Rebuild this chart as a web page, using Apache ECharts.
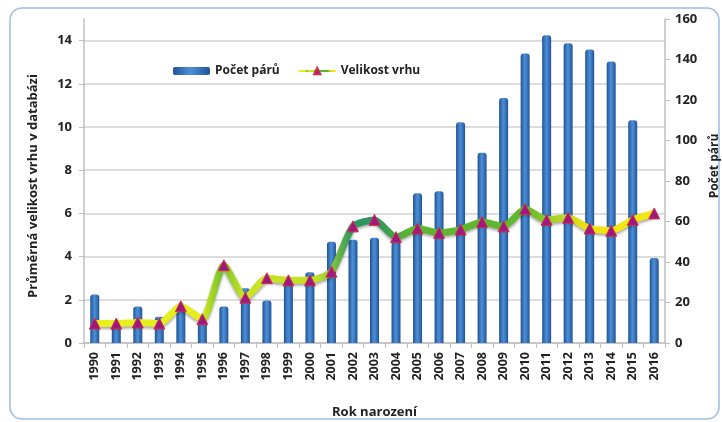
<!DOCTYPE html>
<html>
<head>
<meta charset="utf-8">
<script src="https://cdn.jsdelivr.net/npm/echarts@6/dist/echarts.min.js"></script>
<style>
  html, body { margin: 0; padding: 0; background: #fff; }
  #chart { width: 722px; height: 422px; }
</style>
</head>
<body>
<div id="chart"></div>
<script>
  // roky
  var years = ['1990', '1991', '1992', '1993', '1994', '1995', '1996', '1997', '1998', '1999',
    '2000', '2001', '2002', '2003', '2004', '2005', '2006', '2007', '2008', '2009',
    '2010', '2011', '2012', '2013', '2014', '2015', '2016']
  // Počet párů (pravá osa)
  var pairCounts = [24, 10, 18, 13, 16, 10, 18, 27, 21, 29,
    35, 50, 51, 52, 50, 74, 75, 109, 94, 121,
    143, 152, 148, 145, 139, 110, 42]
  // Velikost vrhu (levá osa)
  var litterSizes = [0.9, 0.9, 0.95, 0.9, 1.7, 1.1, 3.6, 2.1, 3.0, 2.9,
    2.9, 3.3, 5.4, 5.7, 4.9, 5.3, 5.1, 5.25, 5.6, 5.4,
    6.2, 5.7, 5.8, 5.3, 5.2, 5.7, 6.0]

  var font = '"Open Sans", "Noto Sans", sans-serif'
  var chart = echarts.init(document.getElementById('chart'))

  var lineGradient = new echarts.graphic.LinearGradient(0, 0, 1, 0, [
    {offset: 0, color: '#e9ef1e'},
    {offset: 0.19, color: '#e6ee1e'},
    {offset: 0.23, color: '#74c22c'},
    {offset: 0.27, color: '#cde424'},
    {offset: 0.40, color: '#bfe026'},
    {offset: 0.46, color: '#2f9a5e'},
    {offset: 0.50, color: '#2a9264'},
    {offset: 0.56, color: '#5db42e'},
    {offset: 0.77, color: '#62b82e'},
    {offset: 0.83, color: '#b7d824'},
    {offset: 0.88, color: '#f4e20e'},
    {offset: 1, color: '#f6e812'}
  ])

  var option = {
    animation: false,
    textStyle: { fontFamily: font },
    graphic: [{
      type: 'rect',
      z: -1,
      shape: { x: 10, y: 8, width: 709, height: 411, r: 12 },
      style: { fill: 'none', stroke: '#9dbce3', lineWidth: 1.5 }
    }],
    legend: {
      data: ['Počet párů', 'Velikost vrhu'],
      left: 168,
      top: 60,
      itemWidth: 37,
      itemHeight: 8,
      itemGap: 18,
      textStyle: { color: '#222', fontWeight: 'bold', fontSize: 12, fontFamily: font }
    },
    grid: { left: 84, right: 57, top: 19, bottom: 79, outerBoundsMode: 'none' },
    xAxis: {
      type: 'category',
      data: years,
      name: 'Rok narození',
      nameLocation: 'middle',
      nameGap: 63,
      nameTextStyle: { color: '#222', fontWeight: 'bold', fontSize: 13 },
      axisLine: { lineStyle: { color: '#bfbfbf', width: 1.5 } },
      axisTick: { show: true, length: 5, lineStyle: { color: '#bfbfbf' } },
      axisLabel: {
        rotate: 90,
        interval: 0,
        margin: 9,
        color: '#222',
        fontWeight: 'bold',
        fontSize: 12.5
      }
    },
    yAxis: [
      {
        type: 'value',
        min: 0,
        max: 15,
        interval: 2,
        name: 'Průměrná velikost vrhu v databázi',
        nameLocation: 'middle',
        nameGap: 44,
        nameTextStyle: { color: '#222', fontWeight: 'bold', fontSize: 13, padding: [0, 10, 0, 0] },
        axisLine: { show: true, lineStyle: { color: '#bfbfbf', width: 1.5 } },
        axisTick: { show: true, length: 5, lineStyle: { color: '#bfbfbf' } },
        axisLabel: { color: '#222', fontWeight: 'bold', fontSize: 13, margin: 12, showMaxLabel: false },
        splitLine: { show: true, showMaxLine: false, lineStyle: { color: '#d2d2d2', width: 1.5 } }
      },
      {
        type: 'value',
        min: 0,
        max: 160,
        interval: 20,
        position: 'right',
        name: 'Počet párů',
        nameLocation: 'middle',
        nameRotate: 90,
        nameGap: 37,
        nameTextStyle: { color: '#222', fontWeight: 'bold', fontSize: 12, padding: [0, 0, 0, 30] },
        axisLine: { show: true, lineStyle: { color: '#bfbfbf', width: 1.5 } },
        axisTick: { show: true, length: 5, lineStyle: { color: '#bfbfbf' } },
        axisLabel: { color: '#222', fontWeight: 'bold', fontSize: 13, margin: 10 },
        splitLine: { show: false }
      }
    ],
    series: [
      {
        name: 'Počet párů',
        type: 'bar',
        yAxisIndex: 1,
        data: pairCounts,
        barWidth: 9,
        itemStyle: {
          color: new echarts.graphic.LinearGradient(0, 0, 1, 0, [
            {offset: 0, color: '#1f5394'},
            {offset: 0.45, color: '#4d8dd4'},
            {offset: 0.6, color: '#4383cc'},
            {offset: 1, color: '#1f5394'}
          ]),
          borderRadius: [3, 3, 0, 0]
        }
      },
      {
        name: 'Velikost vrhu',
        type: 'line',
        yAxisIndex: 0,
        data: litterSizes,
        smooth: 0.2,
        symbol: 'triangle',
        symbolSize: 11,
        z: 5,
        lineStyle: {
          width: 7,
          color: lineGradient,
          shadowColor: 'rgba(0,0,0,0.35)',
          shadowBlur: 3,
          shadowOffsetY: 2
        },
        itemStyle: {
          color: '#a0187f',
          borderColor: '#cc3348',
          borderWidth: 1
        }
      }
    ]
  }
  chart.setOption(option)
</script>
</body>
</html>
